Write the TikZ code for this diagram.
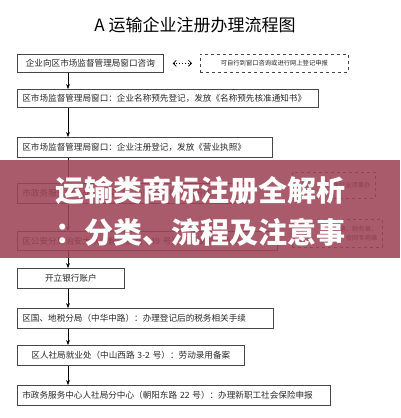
\documentclass[tikz,border=0pt]{standalone}
\usepackage{fontspec}
\newfontfamily\cjk{Noto Sans CJK SC}
\usetikzlibrary{arrows.meta}
\definecolor{bannerred}{RGB}{158,68,86}
\definecolor{boxline}{RGB}{70,70,70}
\tikzset{
  stepbox/.style={draw=boxline, line width=0.7pt, anchor=north west, inner xsep=5pt,
    inner ysep=0pt, font=\cjk\fontsize{8.6}{10}\selectfont, text=black!85},
  notebox/.style={stepbox, dashed},
  bannertext/.style={text=white, font=\cjk\bfseries\fontsize{29}{32}\selectfont}
}
\begin{document}
\begin{tikzpicture}[x=1pt, y=-1pt, >=Stealth]
    \useasboundingbox (0,0) rectangle (400,418);

    % Titel
    \node[font=\cjk\fontsize{17}{20}\selectfont] at (195,25) (titel) {A 运输企业注册办理流程图};

    % Linke Spalte
    \node[stepbox, text width=136pt, minimum height=18pt, align=center] at (17,54) (anfrage) {企业向区市场监督管理局窗口咨询};
    \node[stepbox, text width=291pt, minimum height=18pt] at (17,89) (name) {区市场监督管理局窗口：企业名称预先登记，发放《名称预先核准通知书》};
    \node[stepbox, text width=245pt, minimum height=20pt] at (17,137) (lizenz) {区市场监督管理局窗口：企业注册登记，发放《营业执照》};
    \node[stepbox, text width=223pt, minimum height=20pt] at (17,183) (code) {市政务服务中心质监局窗口：办理组织机构代码证};
    \node[stepbox, text width=250pt, minimum height=19pt] at (17,231) (siegel) {区公安分局治安大队（解放西路 149 号）：印章刻制备案};
    \node[stepbox, text width=97pt, minimum height=20pt, align=center] at (17,268) (bank) {开立银行账户};
    \node[stepbox, text width=246pt, minimum height=20pt] at (17,308) (steuer) {区国、地税分局（中华中路）：办理登记后的税务相关手续};
    \node[stepbox, text width=217pt, minimum height=20pt, align=center] at (17,345) (arbeit) {区人社局就业处（中山西路 3-2 号）：劳动录用备案};
    \node[stepbox, text width=303pt, minimum height=20pt] at (17,385) (sozial) {市政务服务中心人社局分中心（朝阳东路 22 号）：办理新职工社会保险申报};

    % Rechte Spalte (gestrichelt)
    \node[notebox, text width=138pt, minimum height=18pt, align=center, font=\cjk\fontsize{6.3}{8}\selectfont] at (200,54) (online) {可自行到窗口咨询或进行网上登记申报};
    \node[notebox, text width=73pt, minimum height=26pt, align=right, font=\cjk\fontsize{6.3}{8}\selectfont] at (292,172) (bedarf) {特殊行业须要办\\[6pt]};
    \node[notebox, text width=80pt, minimum height=28pt, align=right, font=\cjk\fontsize{6.3}{9}\selectfont] at (292,219) (stempel) {刻制公章、财务章、\\法人章、合同专用章};

    % Pfeile
    \coordinate (achse) at (68,0);
    \draw[<->, dotted, line width=0.8pt, shorten <=9pt, shorten >=8pt, >={Straight Barb[length=3pt]}] (anfrage) -- (online);
    \draw[->] (anfrage.south -| achse) -- (name.north -| achse);
    \draw[->] (name.south -| achse) -- (lizenz.north -| achse);
    \draw[->] (lizenz.south -| achse) -- (code.north -| achse);
    \draw[->] (code.south -| achse) -- (siegel.north -| achse);
    \draw[->] (siegel.south -| achse) -- (bank.north -| achse);
    \draw[->] (bank.south -| achse) -- (steuer.north -| achse);
    \draw[->] (steuer.south -| achse) -- (arbeit.north -| achse);
    \draw[->] (arbeit.south -| achse) -- (sozial.north -| achse);

    % Banner
    \fill[bannerred, opacity=0.88] (0,160) rectangle (400,258);
    \node[bannertext] at (201,191) (zeile1) {运输类商标注册全解析};
    \node[bannertext] at (201,232) (zeile2) {：分类、流程及注意事};

\end{tikzpicture}
\end{document}
